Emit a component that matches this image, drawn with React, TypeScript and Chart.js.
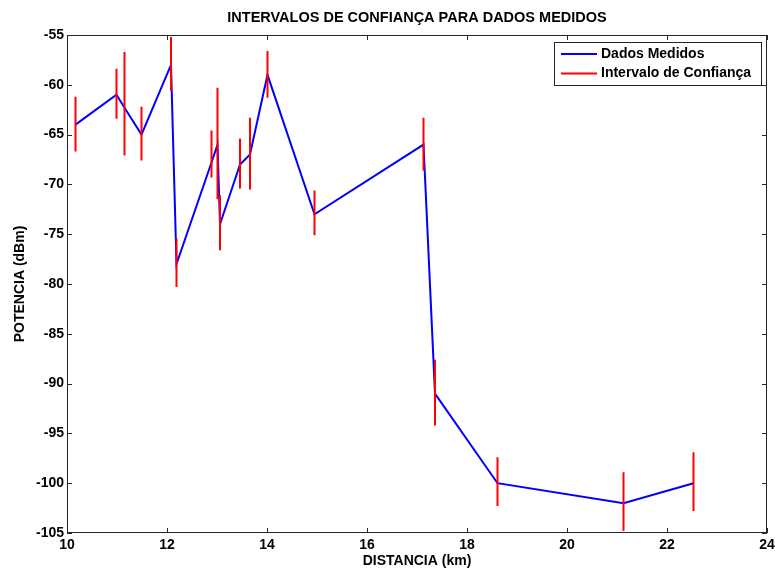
import React, { useEffect, useRef } from "react";
import { Chart, registerables } from "chart.js";

Chart.register(...registerables);

// Distance of each measurement point (km)
const distanciaKm = [
  10.17, 10.99, 11.15, 11.49, 12.08, 12.19, 12.89, 13.01, 13.06, 13.46, 13.66,
  14.01, 14.95, 17.13, 17.36, 18.61, 21.13, 22.53,
];

// Measured power (dBm)
const potenciaDbm = [
  -64, -61, -62.3, -65, -58, -78, -67.8, -66, -74, -68, -67, -59, -73, -66, -91,
  -100, -102, -100,
];

// Confidence interval limits (dBm)
const limiteSuperior = [
  -61.2, -58.4, -56.7, -62.2, -55.2, -75.4, -64.6, -60.3, -71.1, -65.4, -63.3,
  -56.6, -70.6, -63.3, -87.6, -97.4, -98.9, -96.9,
];
const limiteInferior = [
  -66.7, -63.4, -67.1, -67.6, -60.6, -80.3, -69.3, -71.5, -76.6, -70.4, -70.5,
  -61.3, -75.1, -68.6, -94.2, -102.3, -104.8, -102.8,
];

// Axis ticks
const xTicks = [10, 12, 14, 16, 18, 20, 22, 24];
const yTicks = [-55, -60, -65, -70, -75, -80, -85, -90, -95, -100, -105];

const TITLE = "INTERVALOS DE CONFIANÇA PARA DADOS MEDIDOS";
const LEGEND_ITEMS = [
  { label: "Dados Medidos", color: "#0000ff" },
  { label: "Intervalo de Confiança", color: "#ff0000" },
];

const FONT_FAMILY = "'Liberation Sans', Arial, sans-serif";
const AXIS_COLOR = "#262626";

export default function App() {
  const canvasRef = useRef<HTMLCanvasElement | null>(null);

  useEffect(() => {
    const canvas = canvasRef.current;
    if (!canvas) return;

    const medidos = distanciaKm.map((x, i) => ({ x, y: potenciaDbm[i] }));

    // Each interval is a vertical segment; a null point separates segments
    const intervalos: { x: number; y: number | null }[] = [];
    distanciaKm.forEach((x, i) => {
      intervalos.push({ x, y: limiteInferior[i] });
      intervalos.push({ x, y: limiteSuperior[i] });
      intervalos.push({ x, y: null });
    });

    const framePlugin = {
      id: "matlabFrame",
      afterDraw(chart: any) {
        const { ctx, chartArea } = chart;
        const { left, right, top, bottom } = chartArea;
        const xs = chart.scales.x;
        const ys = chart.scales.y;
        ctx.save();

        // Title
        ctx.fillStyle = "#000";
        ctx.font = `bold 14.5px ${FONT_FAMILY}`;
        ctx.textAlign = "center";
        ctx.textBaseline = "middle";
        ctx.fillText(TITLE, (left + right) / 2, 18);

        // Box around the plot area
        ctx.strokeStyle = AXIS_COLOR;
        ctx.lineWidth = 1;
        ctx.strokeRect(left + 0.5, top + 0.5, right - left - 1, bottom - top - 1);

        // Inward tick marks on all four sides
        const tl = 5;
        ctx.beginPath();
        xTicks.forEach((v) => {
          const px = Math.round(xs.getPixelForValue(v)) + 0.5;
          ctx.moveTo(px, bottom);
          ctx.lineTo(px, bottom - tl);
          ctx.moveTo(px, top);
          ctx.lineTo(px, top + tl);
        });
        yTicks.forEach((v) => {
          const py = Math.round(ys.getPixelForValue(v)) + 0.5;
          ctx.moveTo(left, py);
          ctx.lineTo(left + tl, py);
          ctx.moveTo(right, py);
          ctx.lineTo(right - tl, py);
        });
        ctx.stroke();

        // Legend box
        const lx = 554.5;
        const ly = 42.5;
        const lw = 207;
        const lh = 43;
        ctx.fillStyle = "#fff";
        ctx.fillRect(lx, ly, lw, lh);
        ctx.strokeStyle = AXIS_COLOR;
        ctx.strokeRect(lx, ly, lw, lh);
        ctx.font = `bold 14px ${FONT_FAMILY}`;
        ctx.textAlign = "left";
        ctx.textBaseline = "middle";
        LEGEND_ITEMS.forEach((item, i) => {
          const cy = 54 + i * 19.5;
          ctx.strokeStyle = item.color;
          ctx.lineWidth = 2;
          ctx.beginPath();
          ctx.moveTo(561, cy);
          ctx.lineTo(597, cy);
          ctx.stroke();
          ctx.fillStyle = "#000";
          ctx.fillText(item.label, 601, cy);
        });

        ctx.restore();
      },
    };

    const tickFont = { family: FONT_FAMILY, size: 14, weight: "bold" as const };

    const chart = new Chart(canvas, {
      type: "scatter",
      data: {
        datasets: [
          {
            label: LEGEND_ITEMS[0].label,
            data: medidos,
            showLine: true,
            borderColor: "#0000ff",
            backgroundColor: "#0000ff",
            borderWidth: 2,
            pointRadius: 0,
            tension: 0,
            order: 2,
          },
          {
            label: LEGEND_ITEMS[1].label,
            data: intervalos as any,
            showLine: true,
            spanGaps: false,
            borderColor: "#ff0000",
            backgroundColor: "#ff0000",
            borderWidth: 2,
            pointRadius: 0,
            tension: 0,
            order: 1,
          },
        ],
      },
      options: {
        responsive: false,
        animation: false,
        devicePixelRatio: 1,
        layout: { padding: { top: 35, right: 8, left: 0, bottom: 0 } },
        plugins: {
          legend: { display: false },
          title: { display: false },
          tooltip: { enabled: false },
        },
        scales: {
          x: {
            type: "linear",
            min: 10,
            max: 24,
            afterBuildTicks: (scale: any) => {
              scale.ticks = xTicks.map((value) => ({ value }));
            },
            afterFit: (scale: any) => {
              scale.height = 38;
              scale.paddingLeft = 0;
              scale.paddingRight = 0;
            },
            grid: { display: false, drawTicks: false },
            border: { display: false },
            ticks: { color: "#000", font: tickFont, padding: 4, maxRotation: 0 },
            title: {
              display: true,
              text: "DISTANCIA (km)",
              color: "#000",
              font: tickFont,
              padding: { top: 0, bottom: 1 },
            },
          },
          y: {
            type: "linear",
            min: -105,
            max: -55,
            afterBuildTicks: (scale: any) => {
              scale.ticks = yTicks.map((value) => ({ value }));
            },
            afterFit: (scale: any) => {
              scale.width = 67;
              scale.paddingTop = 0;
              scale.paddingBottom = 0;
            },
            grid: { display: false, drawTicks: false },
            border: { display: false },
            ticks: { color: "#000", font: tickFont, padding: 3 },
            title: {
              display: true,
              text: "POTENCIA (dBm)",
              color: "#000",
              font: tickFont,
              padding: { top: 12, bottom: 0 },
            },
          },
        },
      },
      plugins: [framePlugin],
    });

    return () => chart.destroy();
  }, []);

  return (
    <div
      style={{
        position: "fixed",
        left: 0,
        top: 0,
        width: 775,
        height: 571,
        background: "#fff",
      }}
    >
      <canvas ref={canvasRef} width={775} height={571} />
    </div>
  );
}
